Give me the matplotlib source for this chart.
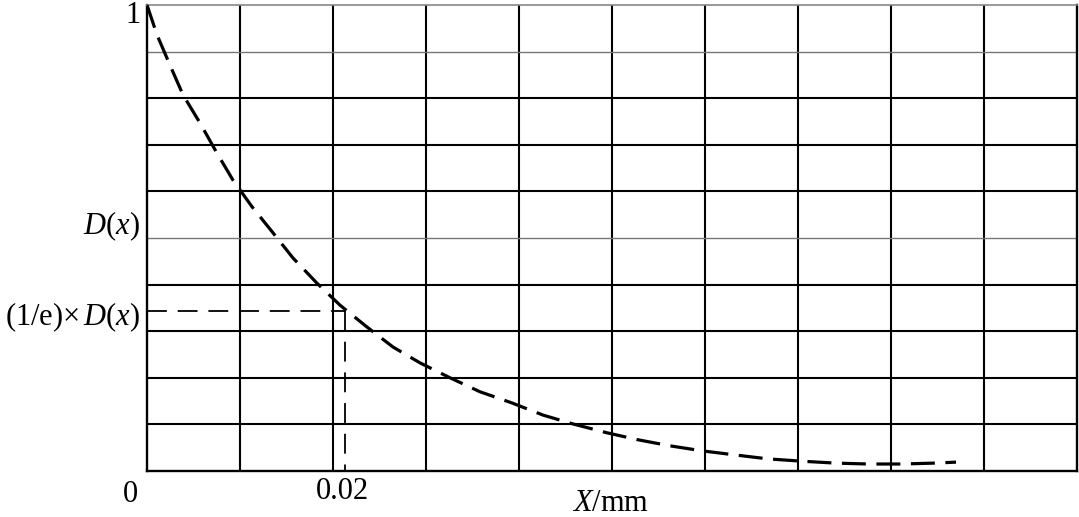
import numpy as np
import matplotlib
matplotlib.use("Agg")
import matplotlib.pyplot as plt

plt.rcParams['font.family'] = ['Liberation Serif', 'DejaVu Serif']
plt.rcParams['mathtext.fontset'] = 'custom'
plt.rcParams['mathtext.rm'] = 'Liberation Serif'
plt.rcParams['mathtext.it'] = 'Liberation Serif:italic'

# curve: depth x in mm, relative D(x)
x_mm = [0.0, 0.00101, 0.00232, 0.00364, 0.00535, 0.00707, 0.00869, 0.01061,
        0.01273, 0.01475, 0.01717, 0.01949, 0.02222, 0.02485, 0.02758, 0.03061,
        0.03364, 0.03687, 0.04000, 0.04303, 0.04646, 0.04960, 0.05283, 0.05616,
        0.05960, 0.06273, 0.06616, 0.06949, 0.07283, 0.07626, 0.07960, 0.08172]
d_rel = [1.0, 0.936, 0.871, 0.807, 0.747, 0.682, 0.624, 0.567,
         0.511, 0.457, 0.403, 0.356, 0.309, 0.266, 0.232, 0.200,
         0.170, 0.146, 0.120, 0.101, 0.082, 0.067, 0.054, 0.043,
         0.034, 0.026, 0.021, 0.017, 0.015, 0.015, 0.017, 0.019]

# 1/e marker
x_e = 0.02
d_e = 0.343

x_max = 0.09394
n_cols = 10
n_rows = 10

fig = plt.figure(figsize=(10.79, 5.17), dpi=100)
ax = fig.add_axes([147 / 1079, 46 / 517, 930 / 1079, 466 / 517])
ax.set_xlim(0, x_max)
ax.set_ylim(0, 1)

# grid
for i in range(1, n_cols):
    ax.axvline(x_max * i / n_cols, color='k', lw=1.5, zorder=1)
for j in range(1, n_rows):
    if j in (5, 9):
        ax.axhline(j / n_rows, color='#777777', lw=1.0, zorder=1)
    else:
        ax.axhline(j / n_rows, color='k', lw=1.5, zorder=1)

for s in ax.spines.values():
    s.set_linewidth(1.7)
ax.spines['top'].set_color('#888888')
ax.spines['top'].set_linewidth(1.2)
ax.set_xticks([])
ax.set_yticks([])

# curve
ax.plot(x_mm, d_rel, color='k', lw=2.3, linestyle=(0, (7.5, 3.3)), zorder=3)

# 1/e construction lines
ax.plot([0, x_e], [d_e, d_e], color='k', lw=1.3, linestyle=(0, (11, 6)), zorder=2)
ax.plot([x_e, x_e], [d_e, 0], color='k', lw=1.3, linestyle=(0, (11, 6)), zorder=2)

fs = 22
ax.text(-0.0151, 1.0086, "1", transform=ax.transAxes, ha='center', va='top', fontsize=fs)
ax.text(-0.0075, 0.526, r"$D(x)$", transform=ax.transAxes, ha='right', va='center', fontsize=fs)
ax.text(-0.0075, 0.330, r"(1/e)×$\,D(x)$", transform=ax.transAxes, ha='right', va='center', fontsize=fs)
ax.text(-0.0183, -0.0515, "0", transform=ax.transAxes, ha='center', va='center', fontsize=fs)
ax.text(0.2097, -0.045, "0.02", transform=ax.transAxes, ha='center', va='center', fontsize=fs)
ax.text(0.498, (471 - 511) / 466, r"$X$/mm", transform=ax.transAxes, ha='center', va='baseline', fontsize=fs)

fig.savefig("out.png", dpi=100)
